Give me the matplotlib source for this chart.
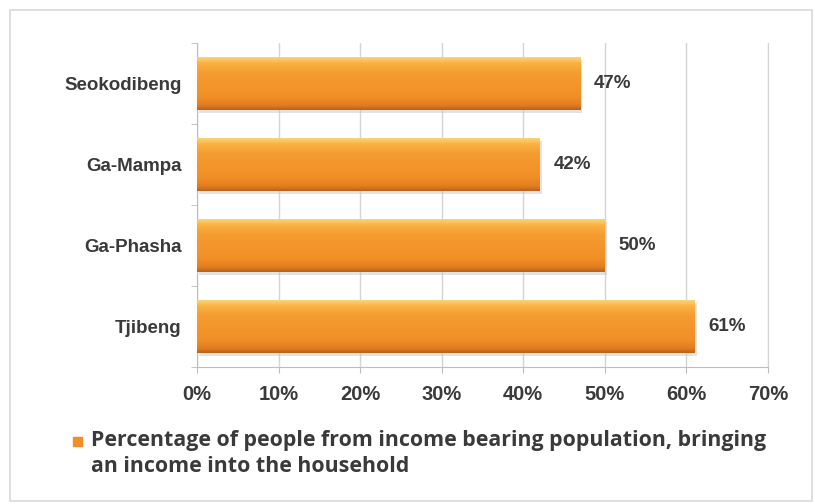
import numpy as np
import matplotlib.pyplot as plt
from matplotlib.patches import Rectangle
from matplotlib.colors import LinearSegmentedColormap

# villages (top to bottom) and share of income earners
villages = ['Seokodibeng', 'Ga-Mampa', 'Ga-Phasha', 'Tjibeng']
percent = [47, 42, 50, 61]
x_ticks = [0, 10, 20, 30, 40, 50, 60, 70]
legend_label = ('Percentage of people from income bearing population, bringing\n'
                'an income into the household')

txt_col = '#3a3a3a'
grid_col = '#d4d4d4'
bar_col = '#f28e26'
font = 'Liberation Sans'

fig = plt.figure(figsize=(8.15, 5.04), dpi=100)
ax = fig.add_axes([0.2417, 0.2718, 0.7006, 0.643])

y = np.arange(len(villages))
bars = ax.barh(y, percent, height=0.65, color=bar_col, zorder=3)

# shaded fill for each bar: thin light top edge, darker bottom edge
grad = LinearSegmentedColormap.from_list(
    'bar', [(0, '#fbd474'), (0.12, '#f8b040'), (0.3, '#f59c30'),
            (0.75, '#f18f27'), (0.92, '#e27c1e'), (1, '#b8621a')])
shade = np.linspace(0, 1, 100).reshape(-1, 1)
for b in bars:
    x0, y0, w, h = b.get_x(), b.get_y(), b.get_width(), b.get_height()
    im = ax.imshow(shade, cmap=grad, aspect='auto', extent=(x0, x0 + w, y0 + h, y0),
                   zorder=4, interpolation='bicubic')
    im.set_clip_path(b)
    # soft shadow on the right/bottom side
    ax.add_patch(Rectangle((x0 + 0.25, y0 + 0.04), w, h, color='#c8c8c8',
                           alpha=0.5, zorder=2, lw=0))

for yi, v in zip(y, percent):
    ax.text(v + 1.7, yi, f'{v}%', va='center', ha='left', fontsize=13.5,
            fontweight='bold', color=txt_col, family=font)

ax.set_xlim(0, 70)
ax.set_ylim(len(villages) - 0.5, -0.5)
ax.set_xticks(x_ticks)
ax.set_xticklabels([f'{t}%' for t in x_ticks], fontsize=14.5, color=txt_col,
                   family=font, fontweight='bold')
ax.set_yticks(y)
ax.set_yticklabels(villages, fontsize=13.5, color=txt_col, family=font,
                   fontweight='bold')
ax.set_yticks(np.arange(len(villages) + 1) - 0.5, minor=True)
ax.tick_params(axis='y', which='major', length=0, pad=11)
ax.tick_params(axis='y', which='minor', length=4, color='#bdbdbd', direction='out')
ax.tick_params(axis='x', length=4, color='#bdbdbd', pad=9)

ax.grid(axis='x', color=grid_col, lw=1, zorder=0)
ax.spines['top'].set_visible(False)
ax.spines['right'].set_color(grid_col)
ax.spines['left'].set_color('#bdbdbd')
ax.spines['bottom'].set_color('#bdbdbd')

# legend key and wrapped label
fig.patches.append(Rectangle((73 / 815, 1 - 446 / 504), 9 / 815, 9 / 504,
                             transform=fig.transFigure, color=bar_col))
fig.text(91 / 815, 1 - 430 / 504, legend_label, ha='left', va='top',
         fontsize=15.4, fontweight='bold', color=txt_col, family='Open Sans',
         linespacing=1.3)

# light frame around the whole chart
fig.patches.append(Rectangle((10 / 815, 3 / 504), 802 / 815, 491 / 504,
                             transform=fig.transFigure, fill=False,
                             edgecolor='#d9d9d9', lw=1.2))

fig.savefig('out.png', dpi=100)
